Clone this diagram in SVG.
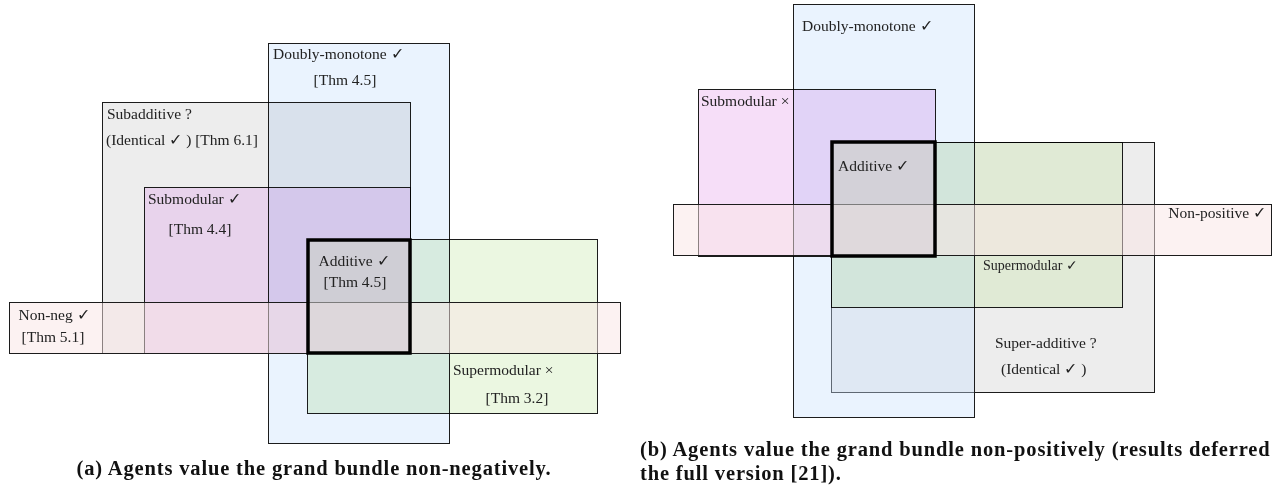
<svg xmlns="http://www.w3.org/2000/svg" width="1272" height="489" viewBox="0 0 1272 489">
<style>
.box{stroke:#1c1c1c;stroke-width:1}
.mul{mix-blend-mode:multiply}
.dm{fill:rgb(201,224,252);fill-opacity:0.39}
.gray{fill:#ededed}
.subL{fill:#fae3fe}
.subR{fill:#f6def8}
.supL{fill:#ebf7e1}
.supR{fill:#f1fce6}
.strip{fill:rgb(250,230,230);fill-opacity:0.5}
.add{fill:rgb(219,219,219);fill-opacity:0.5;stroke:#000;stroke-width:3.5}
.lbl{font-family:"Liberation Serif","DejaVu Serif",serif;font-size:15.5px;fill:#222}
.sm{font-size:14px}
.mid{text-anchor:middle}
.cap{font-family:"Liberation Serif","DejaVu Serif",serif;font-size:20.5px;font-weight:bold;letter-spacing:0.85px;fill:#111}
</style>
<rect width="1272" height="489" fill="#fff"/>
<!-- Left diagram -->
<g id="left">
<g id="L-doubly"><rect class="box dm" x="268.5" y="43.5" width="181" height="400"/></g>
<g id="L-subadditive"><rect class="box gray mul" x="102.5" y="102.5" width="308" height="251"/></g>
<g id="L-submodular"><rect class="box subL mul" x="144.5" y="187.5" width="266" height="166"/></g>
<g id="L-supermodular"><rect class="box supL mul" x="307.5" y="239.5" width="290" height="174"/></g>
<g id="L-nonneg"><rect class="box strip" x="9.5" y="302.5" width="611" height="51"/></g>
<g id="L-additive"><rect class="add" x="308" y="240" width="102" height="113"/></g>
<g id="L-labels" class="lbl">
<text x="273" y="59">Doubly-monotone ✓</text>
<text class="mid" x="345" y="85">[Thm 4.5]</text>
<text x="107" y="119">Subadditive ?</text>
<text x="106" y="145">(Identical ✓ ) [Thm 6.1]</text>
<text x="148" y="204">Submodular ✓</text>
<text class="mid" x="200" y="234">[Thm 4.4]</text>
<text class="mid" x="354" y="266">Additive ✓</text>
<text class="mid" x="355" y="287">[Thm 4.5]</text>
<text class="mid" x="54" y="320">Non-neg ✓</text>
<text class="mid" x="53" y="342">[Thm 5.1]</text>
<text x="453" y="375">Supermodular ×</text>
<text class="mid" x="517" y="403">[Thm 3.2]</text>
</g>
</g>
<!-- Right diagram -->
<g id="right">
<g id="R-superadditive"><rect class="box gray" x="831.5" y="142.5" width="323" height="250"/></g>
<g id="R-doubly"><rect class="box dm" x="793.5" y="4.5" width="181" height="413"/></g>
<g id="R-submodular"><rect class="box subR mul" x="698.5" y="89.5" width="237" height="167"/></g>
<g id="R-supermodular"><rect class="box supR mul" x="831.5" y="142.5" width="291" height="165"/></g>
<g id="R-nonpos"><rect class="box strip" x="673.5" y="204.5" width="598" height="51"/></g>
<g id="R-additive"><rect class="add" x="832" y="142" width="103" height="114"/></g>
<g id="R-labels" class="lbl">
<text x="802" y="31">Doubly-monotone ✓</text>
<text x="701" y="106">Submodular ×</text>
<text x="838" y="171">Additive ✓</text>
<text x="1266" y="218" text-anchor="end">Non-positive ✓</text>
<text class="sm" x="983" y="270">Supermodular ✓</text>
<text x="995" y="348">Super-additive ?</text>
<text x="1001" y="374">(Identical ✓ )</text>
</g>
</g>
<g id="captions" class="cap">
<text x="314" y="475" text-anchor="middle">(a) Agents value the grand bundle non-negatively.</text>
<text x="640" y="456">(b) Agents value the grand bundle non-positively (results deferred</text>
<text x="640" y="480">the full version [21]).</text>
</g>
</svg>
